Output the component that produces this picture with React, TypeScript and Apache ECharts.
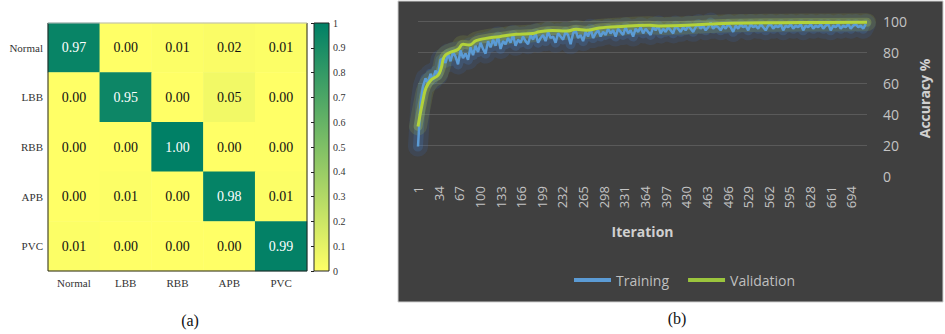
import React, { useEffect, useRef } from 'react';
import * as echarts from 'echarts';

// ---------- data: panel (a) confusion matrix ----------
const classes = ['Normal', 'LBB', 'RBB', 'APB', 'PVC'];
const rowNormal = [0.97, 0.0, 0.01, 0.02, 0.01];
const rowLBB = [0.0, 0.95, 0.0, 0.05, 0.0];
const rowRBB = [0.0, 0.0, 1.0, 0.0, 0.0];
const rowAPB = [0.0, 0.01, 0.0, 0.98, 0.01];
const rowPVC = [0.01, 0.0, 0.0, 0.0, 0.99];
const confusion = [rowNormal, rowLBB, rowRBB, rowAPB, rowPVC];

// ---------- data: panel (b) accuracy curves ----------
const ITER_COUNT = 719;
const iterations = Array.from({ length: ITER_COUNT }, (_, i) => String(i + 1));
const TRAIN_STEP = 4; // training accuracy read every 4th iteration (1, 5, 9, ...)
const trainingAcc = [
  19, 47, 58, 63, 60, 66, 62, 68, 65, 75,
  76, 73, 79, 74, 80, 77, 72, 81, 76, 79,
  75, 83, 78, 84, 80, 86, 82, 79, 87, 83,
  88, 84, 90, 82, 87, 85, 89, 86, 91, 84,
  88, 86, 90, 87, 85, 91, 88, 92, 86, 89,
  91, 87, 93, 89, 90, 86, 92, 90, 88, 93,
  91, 85, 92, 94, 89, 91, 87, 93, 90, 95,
  89, 92, 94, 90, 93, 91, 95, 92, 94, 90,
  95, 93, 91, 96, 92, 94, 90, 95, 93, 96,
  92, 95, 93, 91, 96, 94, 97, 92, 95, 93,
  96, 94, 92, 97, 95, 93, 96, 94, 97, 95,
  93, 96, 98, 95, 97, 94, 96, 99, 95, 97,
  96, 94, 97, 95, 98, 96, 93, 97, 95, 98,
  96, 97, 94, 98, 96, 97, 95, 98, 96, 94,
  97, 98, 95, 97, 96, 98, 94, 97, 96, 98,
  95, 97, 96, 98, 94, 97, 96, 98, 95, 97,
  96, 98, 95, 97, 98, 94, 97, 96, 98, 95,
  97, 96, 98, 95, 97, 98, 96, 97, 95, 98,
];
const validationIter = [
  1, 9, 14, 22, 33, 38, 43, 51, 65, 73, 83, 94, 110, 131, 158, 185, 195, 216,
  238, 254, 270, 291, 318, 371, 390, 440, 468, 502, 580, 650, 719,
];
const validationAcc = [
  32, 49, 57, 62, 65, 69.5, 77, 79.5, 81.7, 85, 84.5, 87.3, 88.8, 89.9, 91.4, 92, 93, 93.8,
  93.5, 94.6, 94, 95.5, 96.3, 97.2, 96.8, 97.4, 98, 98.5, 98.9, 99.1, 99.2,
];

// ---------- layout ----------
const HM = { left: 48, top: 23, width: 259, height: 248 };
const CB = { left: 314, top: 23, width: 15, height: 248 };
const LN = { left: 418, top: 21, width: 449, height: 155 };
const PANEL_B = { x: 398, y: 1, width: 545, height: 301 };

const SERIF = '"Liberation Serif", "Times New Roman", serif';
const SANS = '"Open Sans", "Liberation Sans", sans-serif';
const YELLOW = '#ffff66';
const GREEN = '#008066';

export default function App() {
  const ref = useRef<HTMLDivElement>(null);

  useEffect(() => {
    if (!ref.current) return;
    const chart = echarts.init(ref.current, undefined, { renderer: 'svg' });

    const heatData: any[] = [];
    confusion.forEach((row, r) =>
      row.forEach((v, c) => {
        heatData.push({
          value: [c, r, v],
          label: { color: v > 0.5 ? '#ffffff' : '#111111' },
        });
      })
    );

    const trainData = trainingAcc.map((v, i) => [i * TRAIN_STEP, v]);
    const validData = validationIter.map((it, k) => [it - 1, validationAcc[k]]);

    const glow = (data: any[], color: string, width: number, smooth: boolean) => ({
      type: 'line',
      xAxisIndex: 2,
      yAxisIndex: 2,
      data,
      smooth,
      silent: true,
      showSymbol: false,
      symbol: 'none',
      legendHoverLink: false,
      lineStyle: { color, width, cap: 'round', join: 'round' },
      z: 1,
    });

    const option: any = {
      animation: false,
      grid: [
        { ...HM, containLabel: false },
        { ...CB, containLabel: false },
        { ...LN, containLabel: false },
      ],
      visualMap: {
        show: false,
        type: 'continuous',
        min: 0,
        max: 1,
        seriesIndex: 0,
        dimension: 2,
        inRange: { color: [YELLOW, GREEN] },
      },
      xAxis: [
        {
          gridIndex: 0,
          type: 'category',
          data: classes,
          axisLine: { show: false },
          axisTick: { show: false },
          splitLine: { show: false },
          axisLabel: { color: '#333', fontFamily: SERIF, fontSize: 11, margin: 6 },
        },
        { gridIndex: 1, type: 'value', show: false, min: 0, max: 1 },
        {
          gridIndex: 2,
          type: 'category',
          data: iterations,
          boundaryGap: false,
          axisLine: { show: false },
          axisTick: { show: false },
          splitLine: { show: false },
          axisLabel: {
            interval: 32,
            rotate: 90,
            color: '#c4c4c4',
            fontFamily: SANS,
            fontSize: 13,
            margin: 10,
          },
          name: 'Iteration',
          nameLocation: 'middle',
          nameGap: 48,
          nameTextStyle: { color: '#d0d0d0', fontFamily: SANS, fontSize: 14, fontWeight: 'bold' },
        },
      ],
      yAxis: [
        {
          gridIndex: 0,
          type: 'category',
          data: classes,
          inverse: true,
          axisLine: { show: false },
          axisTick: { show: false },
          splitLine: { show: false },
          axisLabel: { color: '#333', fontFamily: SERIF, fontSize: 11, margin: 5 },
        },
        {
          gridIndex: 1,
          type: 'value',
          min: 0,
          max: 1,
          interval: 0.1,
          position: 'right',
          axisLine: { show: false },
          axisTick: { show: true, inside: true, length: 3, lineStyle: { color: '#222' } },
          splitLine: { show: false },
          axisLabel: { color: '#333', fontFamily: SERIF, fontSize: 10, margin: 4 },
        },
        {
          gridIndex: 2,
          type: 'value',
          min: 0,
          max: 100,
          interval: 20,
          position: 'right',
          axisLine: { show: false },
          axisTick: { show: false },
          splitLine: { show: true, showMinLine: false, lineStyle: { color: '#5a5a5a', width: 1 } },
          axisLabel: { color: '#c4c4c4', fontFamily: SANS, fontSize: 14, margin: 16 },
          name: 'Accuracy %',
          nameLocation: 'middle',
          nameRotate: 90,
          nameGap: 50,
          nameTextStyle: { color: '#d0d0d0', fontFamily: SANS, fontSize: 14, fontWeight: 'bold' },
        },
      ],
      legend: {
        left: 569,
        top: 268,
        itemWidth: 37,
        itemHeight: 4,
        itemGap: 19,
        icon: 'rect',
        textStyle: { color: '#bfbfbf', fontFamily: SANS, fontSize: 14 },
        data: ['Training', 'Validation'],
      },
      series: [
        {
          type: 'heatmap',
          xAxisIndex: 0,
          yAxisIndex: 0,
          data: heatData,
          label: {
            show: true,
            fontFamily: SERIF,
            fontSize: 14,
            formatter: (p: any) => Number(p.value[2]).toFixed(2),
          },
          itemStyle: { borderWidth: 0 },
          emphasis: { disabled: true },
        },
        glow(trainData, 'rgba(60,110,190,0.16)', 20, false),
        glow(trainData, 'rgba(70,130,210,0.22)', 10, false),
        glow(validData, 'rgba(190,225,70,0.13)', 18, true),
        glow(validData, 'rgba(200,235,80,0.22)', 9, true),
        {
          name: 'Training',
          type: 'line',
          xAxisIndex: 2,
          yAxisIndex: 2,
          data: trainData,
          showSymbol: false,
          symbol: 'none',
          color: '#5b9bd5',
          lineStyle: { color: '#5b9bd5', width: 2.5 },
          z: 2,
        },
        {
          name: 'Validation',
          type: 'line',
          xAxisIndex: 2,
          yAxisIndex: 2,
          data: validData,
          smooth: true,
          showSymbol: false,
          symbol: 'none',
          color: '#9bc53d',
          lineStyle: { color: '#b2d23a', width: 3 },
          z: 3,
        },
      ],
      graphic: [
        {
          type: 'rect',
          z: -10,
          silent: true,
          shape: { ...PANEL_B },
          style: { fill: '#404040', stroke: '#cfcfcf', lineWidth: 1 },
        },
        {
          type: 'rect',
          z: 5,
          silent: true,
          shape: { x: CB.left, y: CB.top, width: CB.width, height: CB.height },
          style: {
            fill: new echarts.graphic.LinearGradient(0, 0, 0, 1, [
              { offset: 0, color: GREEN },
              { offset: 1, color: YELLOW },
            ]),
            stroke: '#222',
            lineWidth: 1,
          },
        },
        {
          type: 'polyline',
          z: 20,
          silent: true,
          shape: {
            points: [
              [HM.left, HM.top],
              [HM.left, HM.top + HM.height],
              [HM.left + HM.width, HM.top + HM.height],
              [HM.left + HM.width, HM.top],
            ],
          },
          style: { stroke: '#222', lineWidth: 1, fill: null },
        },
        {
          type: 'line',
          z: 20,
          silent: true,
          shape: { x1: HM.left, y1: HM.top, x2: HM.left + HM.width, y2: HM.top },
          style: { stroke: '#b8b8b8', lineWidth: 1 },
        },
        {
          type: 'text',
          z: 20,
          x: 190,
          y: 320,
          style: {
            text: '(a)',
            fill: '#111',
            font: `16px ${SERIF}`,
            textAlign: 'center',
            textVerticalAlign: 'middle',
          },
        },
        {
          type: 'text',
          z: 20,
          x: 677,
          y: 318,
          style: {
            text: '(b)',
            fill: '#111',
            font: `16px ${SERIF}`,
            textAlign: 'center',
            textVerticalAlign: 'middle',
          },
        },
      ],
    };

    chart.setOption(option);
    return () => chart.dispose();
  }, []);

  return (
    <div
      ref={ref}
      style={{ position: 'absolute', left: 0, top: 0, width: 945, height: 334, background: '#fff' }}
    />
  );
}
